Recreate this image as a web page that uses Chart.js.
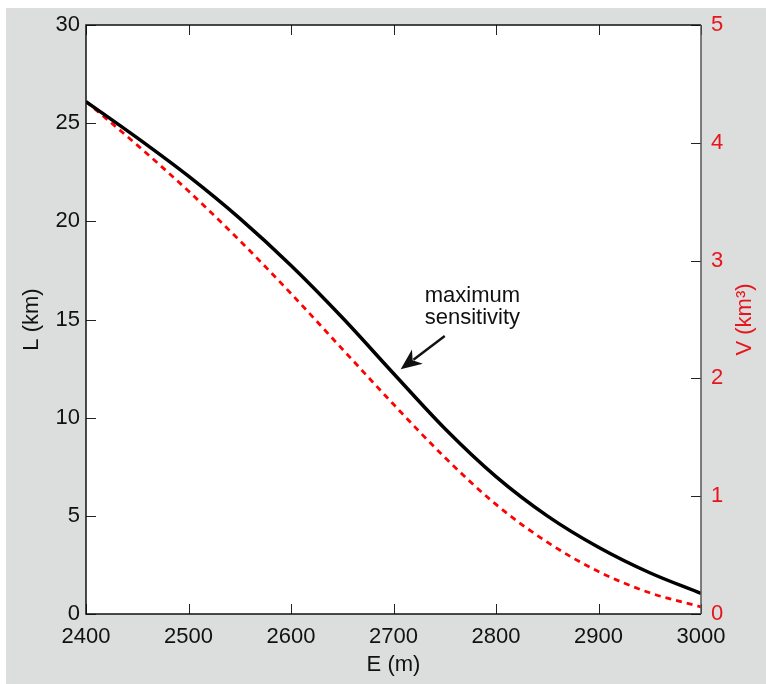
<!DOCTYPE html>
<html>
<head>
<meta charset="utf-8">
<script src="https://cdn.jsdelivr.net/npm/chart.js@4/dist/chart.umd.min.js"></script>
<style>
  html, body { margin: 0; padding: 0; background: #ffffff; }
  #wrap { position: relative; width: 766px; height: 684px; }
</style>
</head>
<body>
<div id="wrap"><canvas id="myChart" width="766" height="684"></canvas></div>
<script>
// elevation E (m)
const elevation = [2400, 2450, 2500, 2550, 2600, 2650, 2700, 2750, 2800, 2850, 2900, 2950, 3000];
// glacier length L (km)
const lengthKm = [26.1, 24.25, 22.3, 20.15, 17.75, 15.1, 12.25, 9.45, 7.0, 5.0, 3.4, 2.1, 1.05];
// glacier volume V (km3)
const volumeKm3 = [4.35, 3.98, 3.59, 3.17, 2.72, 2.25, 1.78, 1.33, 0.93, 0.61, 0.36, 0.18, 0.06];

const xTicks = [2400, 2500, 2600, 2700, 2800, 2900, 3000];
const lTicks = [0, 5, 10, 15, 20, 25, 30];
const vTicks = [0, 1, 2, 3, 4, 5];

// annotation, in data units (E, L)
const noteLines = ['maximum', 'sensitivity'];
const noteAt = { x: 2777, y: [15.89, 14.77] };
const arrowFrom = { x: 2750, y: 14.16 };
const arrowTo = { x: 2707, y: 12.46 };

const RED = '#e8141c';
const FONT = '"Liberation Sans", Arial, Helvetica, sans-serif';

const framePlugin = {
    id: 'frame',
    beforeDraw(chart) {
        const ctx = chart.ctx;
        const a = chart.chartArea;
        ctx.save();
        ctx.fillStyle = '#ffffff';
        ctx.fillRect(0, 0, chart.width, chart.height);
        ctx.fillStyle = '#dcdddd';
        ctx.fillRect(6, 8, chart.width - 6, chart.height - 8);
        ctx.fillStyle = '#ffffff';
        ctx.fillRect(a.left, a.top, a.right - a.left, a.bottom - a.top);
        ctx.restore();
    },
    afterDraw(chart) {
        const ctx = chart.ctx;
        const a = chart.chartArea;
        const sx = chart.scales.x, sy = chart.scales.y, sv = chart.scales.y1;
        const tick = 10;
        ctx.save();
        ctx.lineWidth = 1;
        ctx.strokeStyle = '#222';
        ctx.beginPath();
        xTicks.forEach(v => {
            const px = Math.round(sx.getPixelForValue(v)) + 0.5;
            ctx.moveTo(px, a.bottom); ctx.lineTo(px, a.bottom - tick);
            ctx.moveTo(px, a.top); ctx.lineTo(px, a.top + tick);
        });
        lTicks.forEach(v => {
            const py = Math.round(sy.getPixelForValue(v)) + 0.5;
            ctx.moveTo(a.left, py); ctx.lineTo(a.left + tick, py);
        });
        vTicks.forEach(v => {
            const py = Math.round(sv.getPixelForValue(v)) + 0.5;
            ctx.moveTo(a.right, py); ctx.lineTo(a.right - tick, py);
        });
        ctx.stroke();

        // frame
        ctx.lineWidth = 1.5;
        ctx.strokeStyle = '#111';
        ctx.beginPath();
        ctx.moveTo(a.right, a.top); ctx.lineTo(a.left, a.top);
        ctx.lineTo(a.left, a.bottom); ctx.lineTo(a.right, a.bottom);
        ctx.stroke();
        ctx.strokeStyle = '#555';
        ctx.beginPath();
        ctx.moveTo(a.right, a.top); ctx.lineTo(a.right, a.bottom);
        ctx.stroke();

        // right axis title, reads bottom to top
        ctx.fillStyle = RED;
        ctx.font = '22px ' + FONT;
        ctx.textAlign = 'center';
        ctx.textBaseline = 'middle';
        ctx.translate(745, (a.top + a.bottom) / 2);
        ctx.rotate(-Math.PI / 2);
        ctx.fillText('V (km\u00B3)', 0, 0);
        ctx.setTransform(1, 0, 0, 1, 0, 0);

        // annotation
        ctx.fillStyle = '#111';
        ctx.textBaseline = 'alphabetic';
        noteLines.forEach((t, i) => {
            ctx.fillText(t, sx.getPixelForValue(noteAt.x), sy.getPixelForValue(noteAt.y[i]));
        });
        const x0 = sx.getPixelForValue(arrowFrom.x), y0 = sy.getPixelForValue(arrowFrom.y);
        const x1 = sx.getPixelForValue(arrowTo.x), y1 = sy.getPixelForValue(arrowTo.y);
        const ang = Math.atan2(y1 - y0, x1 - x0);
        const headLen = 21, headW = 9;
        const bx = x1 - headLen * Math.cos(ang), by = y1 - headLen * Math.sin(ang);
        ctx.strokeStyle = '#111';
        ctx.lineWidth = 2.4;
        ctx.beginPath();
        ctx.moveTo(x0, y0);
        ctx.lineTo(bx + 5 * Math.cos(ang), by + 5 * Math.sin(ang));
        ctx.stroke();
        ctx.beginPath();
        ctx.moveTo(x1, y1);
        ctx.lineTo(bx - headW * Math.sin(ang), by + headW * Math.cos(ang));
        ctx.lineTo(bx + 6 * Math.cos(ang), by + 6 * Math.sin(ang));
        ctx.lineTo(bx + headW * Math.sin(ang), by - headW * Math.cos(ang));
        ctx.closePath();
        ctx.fill();
        ctx.restore();
    }
};

var ctx = document.getElementById('myChart').getContext('2d');
new Chart(ctx, {
    type: 'line',
    data: {
        datasets: [
            {
                label: 'L',
                data: elevation.map((e, i) => ({ x: e, y: lengthKm[i] })),
                yAxisID: 'y',
                borderColor: '#000000',
                borderWidth: 3.5,
                pointRadius: 0,
                cubicInterpolationMode: 'monotone',
                order: 1
            },
            {
                label: 'V',
                data: elevation.map((e, i) => ({ x: e, y: volumeKm3[i] })),
                yAxisID: 'y1',
                borderColor: '#ff0000',
                borderWidth: 2.8,
                borderDash: [6, 5],
                pointRadius: 0,
                cubicInterpolationMode: 'monotone',
                order: 2
            }
        ]
    },
    options: {
        responsive: false,
        animation: false,
        layout: { padding: { top: 25, left: 0, right: 0, bottom: 0 } },
        plugins: { legend: { display: false }, tooltip: { enabled: false } },
        scales: {
            x: {
                type: 'linear',
                min: 2400, max: 3000,
                afterBuildTicks: s => { s.ticks = xTicks.map(v => ({ value: v })); },
                afterFit: s => { s.height = 70; },
                grid: { display: false, drawTicks: false },
                border: { display: false },
                ticks: { color: '#111', padding: 10, font: { size: 22, family: FONT }, maxRotation: 0, callback: v => String(v) },
                title: { display: true, text: 'E (m)', color: '#111', font: { size: 22, family: FONT }, padding: { top: 0, bottom: 6 } }
            },
            y: {
                position: 'left',
                min: 0, max: 30,
                afterBuildTicks: s => { s.ticks = lTicks.map(v => ({ value: v })); },
                afterFit: s => { s.width = 86; },
                grid: { display: false, drawTicks: false },
                border: { display: false },
                ticks: { color: '#111', padding: 6, font: { size: 22, family: FONT } },
                title: { display: true, text: 'L (km)', color: '#111', font: { size: 22, family: FONT }, padding: { top: 19, bottom: 0 } }
            },
            y1: {
                position: 'right',
                min: 0, max: 5,
                afterBuildTicks: s => { s.ticks = vTicks.map(v => ({ value: v })); },
                afterFit: s => { s.width = 65; },
                grid: { display: false, drawTicks: false },
                border: { display: false },
                ticks: { color: RED, padding: 10, font: { size: 22, family: FONT } }
            }
        }
    },
    plugins: [framePlugin]
});
</script>
</body>
</html>
